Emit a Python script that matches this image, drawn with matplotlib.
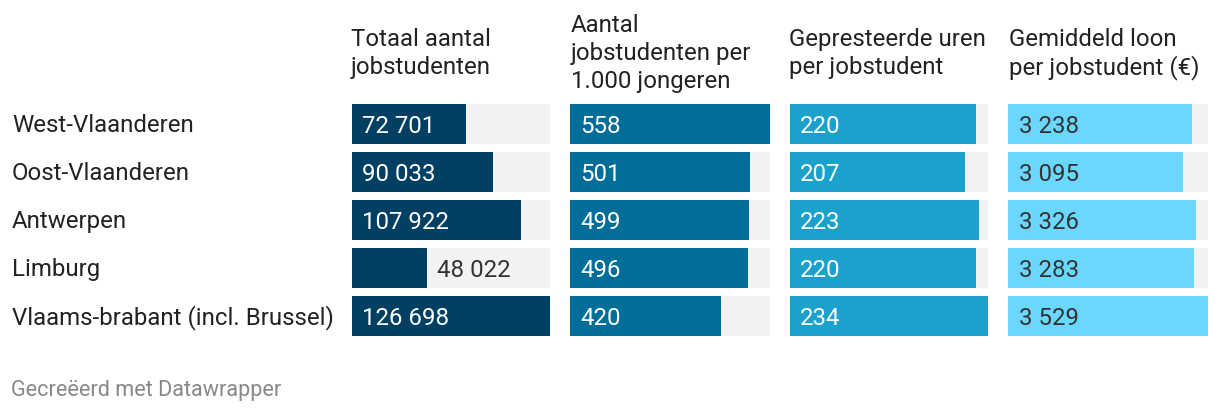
import matplotlib
matplotlib.use("Agg")
import matplotlib.pyplot as plt

plt.rcParams['font.family'] = ['Roboto', 'DejaVu Sans']

# data
regions = ["West-Vlaanderen", "Oost-Vlaanderen", "Antwerpen", "Limburg",
           "Vlaams-brabant (incl. Brussel)"]
headers = [["Totaal aantal", "jobstudenten"],
           ["Aantal", "jobstudenten per", "1.000 jongeren"],
           ["Gepresteerde uren", "per jobstudent"],
           ["Gemiddeld loon", "per jobstudent (€)"]]
totaal = [72701, 90033, 107922, 48022, 126698]
per_1000 = [558, 501, 499, 496, 420]
uren = [220, 207, 223, 220, 234]
loon = [3238, 3095, 3326, 3283, 3529]
columns = [totaal, per_1000, uren, loon]

colors = ["#013f63", "#006e98", "#1aa2cd", "#6ad7ff"]
label_colors = ["white", "white", "white", "#333333"]
col_left = [352, 570, 790, 1008]
col_width = [198, 200, 198, 200]
head_x = [351, 571, 789, 1009]

W, H = 1220, 412
fig = plt.figure(figsize=(W / 100, H / 100), dpi=100)
fig.patch.set_facecolor("white")

def fy(px):
    # pixel from top -> figure fraction
    return 1 - px / H

top, pitch, bh = 104, 48, 40
bottom = top + 4 * pitch + bh
half = bh / pitch / 2

for c, vals in enumerate(columns):
    ax = fig.add_axes([col_left[c] / W, fy(bottom), col_width[c] / W, (bottom - top) / H])
    vmax = max(vals)
    ys = range(len(vals))
    ax.barh(ys, [vmax] * len(vals), height=bh / pitch, color="#f2f2f2", left=0)
    ax.barh(ys, vals, height=bh / pitch, color=colors[c], left=0)
    ax.set_xlim(0, vmax)
    ax.set_ylim(len(vals) - 1 + half, -half)
    ax.axis("off")
    for i, v in enumerate(vals):
        txt = f"{v:,}".replace(",", " ")
        # labels that do not fit go outside the bar
        if v / vmax * col_width[c] < 110:
            ax.annotate(txt, (v, i), xytext=(7.2, 0), textcoords="offset points",
                        va="center_baseline", ha="left", fontsize=17.3, color="#333333")
        else:
            ax.annotate(txt, (0, i), xytext=(7.2 if c < 3 else 7.9, 0), textcoords="offset points",
                        va="center_baseline", ha="left", fontsize=17.3, color=label_colors[c])

    # header, lines centred around y=60
    n = len(headers[c])
    for j, line in enumerate(headers[c]):
        yb = 60 + (j - (n - 1) / 2) * 28
        fig.text(head_x[c] / W, fy(yb), line, ha="left", va="baseline",
                 fontsize=17.3, color="#222222")

for i, r in enumerate(regions):
    yc = top + bh / 2 + i * pitch
    fig.text(12 / W, fy(yc + 8.3), r, ha="left", va="baseline", fontsize=17.3, color="#222222")

fig.text(11 / W, fy(396), "Gecreëerd met Datawrapper", ha="left", va="baseline",
         fontsize=15.6, color="#888888")

fig.savefig("out.png", dpi=100, facecolor="white")
